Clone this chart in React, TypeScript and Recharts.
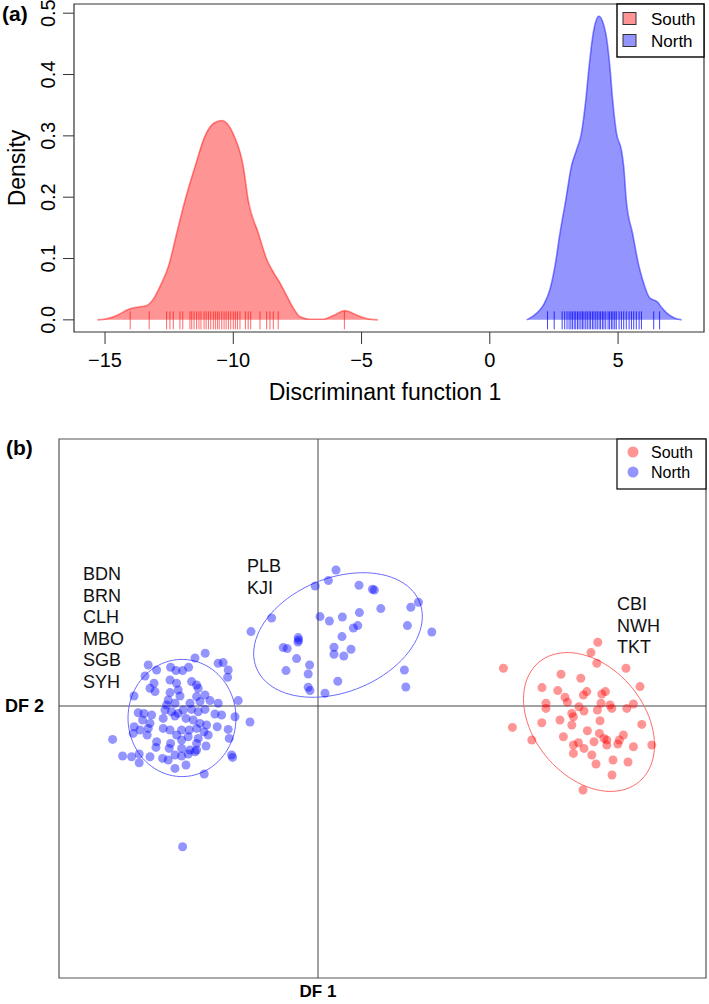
import React from 'react';
import {
  ComposedChart,
  ScatterChart,
  Area,
  Scatter,
  XAxis,
  YAxis,
  ReferenceArea,
  ReferenceLine,
} from 'recharts';

const FONT = '"Liberation Sans", Arial, Helvetica, sans-serif';
const NARROW = '"Liberation Sans Narrow", "Liberation Sans", Arial, sans-serif';

// ---------- Panel (a): density of discriminant function 1 ----------
const southDensityX = [-15.3, -14.9, -14.5, -14.1, -13.7, -13.4, -13.1, -12.85, -12.53, -12.2, -11.88, -11.49, -11.1, -10.75, -10.44, -10.15, -9.97, -9.61, -9.42, -9.03, -8.69, -8.4, -8.18, -7.9, -7.67, -7.4, -7.0, -6.5, -6.1, -5.65, -5.2, -4.8, -4.36];
const southDensityY = [0, 0.002, 0.008, 0.017, 0.021, 0.023, 0.035, 0.055, 0.087, 0.142, 0.195, 0.25, 0.3, 0.321, 0.325, 0.315, 0.3, 0.25, 0.195, 0.142, 0.098, 0.075, 0.06, 0.038, 0.02, 0.005, 0.001, 0.001, 0.007, 0.015, 0.008, 0.002, 0];
const northDensityX = [1.44, 1.83, 2.1, 2.34, 2.55, 2.73, 2.96, 3.18, 3.38, 3.57, 3.74, 3.87, 4.03, 4.25, 4.52, 4.68, 4.79, 4.94, 5.13, 5.22, 5.32, 5.57, 5.8, 5.96, 6.23, 6.54, 6.7, 6.9, 7.2, 7.48];
const northDensityY = [0, 0.011, 0.025, 0.049, 0.09, 0.14, 0.195, 0.25, 0.277, 0.304, 0.358, 0.413, 0.467, 0.495, 0.467, 0.413, 0.358, 0.304, 0.277, 0.25, 0.195, 0.14, 0.09, 0.065, 0.036, 0.029, 0.02, 0.011, 0.003, 0];

const southRug = [-14.02, -13.28, -12.6, -12.47, -12.34, -12.08, -11.97, -11.69, -11.62, -11.53, -11.43, -11.34, -11.26, -11.14, -11.06, -10.97, -10.88, -10.78, -10.7, -10.62, -10.55, -10.45, -10.36, -10.28, -10.19, -10.1, -10.0, -9.92, -9.84, -9.74, -9.53, -9.42, -9.32, -8.96, -8.7, -8.57, -8.44, -8.25, -5.67];
const northRug = [2.25, 2.51, 2.82, 2.92, 3.01, 3.09, 3.16, 3.22, 3.29, 3.35, 3.42, 3.48, 3.55, 3.61, 3.67, 3.74, 3.8, 3.87, 3.93, 4.0, 4.06, 4.13, 4.19, 4.26, 4.32, 4.39, 4.45, 4.52, 4.61, 4.67, 4.74, 4.8, 4.87, 4.93, 5.04, 5.13, 5.22, 5.32, 5.43, 5.52, 5.61, 5.71, 5.82, 5.91, 6.39, 6.62];

const xTicksA = [-15, -10, -5, 0, 5];
const yTicksA = [0, 0.1, 0.2, 0.3, 0.4, 0.5];
const xDomainA: [number, number] = [-16.21, 8.35];
const yDomainA: [number, number] = [-0.0198, 0.515];

// ---------- Panel (b): DF1 vs DF2 scatter ----------
const northPointsA: [number, number][] = [
  [-5.64, 2.64], [-6.15, 2.4], [-8.49, 2.05], [-8.07, 1.8], [-7.37, 1.94], [-7.1, 1.77], [-6.77, 1.77], [-6.47, 1.94],
  [-4.99, 2.14], [-4.74, 2.17], [-4.49, 1.8], [-8.65, 1.5], [-8.2, 1.14], [-8.4, 0.89], [-8.15, 0.72], [-7.4, 1.3],
  [-7.07, 1.14], [-6.32, 1.22], [-6.07, 1.05], [-5.99, 0.89], [-4.52, 1.44], [-9.2, 0.5], [-7.4, 0.67], [-6.99, 0.8],
  [-6.9, 0.5], [-6.07, 0.47], [-5.65, 0.55], [-5.4, 0.27], [-4.99, 0.14], [-3.99, 0.27], [-7.49, 0.3], [-7.57, 0.05],
  [-7.15, 0.14], [-6.4, 0.14], [-5.9, 0.22], [-8.99, -0.34], [-8.7, -0.37], [-8.32, -0.45], [-7.65, -0.2], [-7.32, -0.29],
  [-6.99, -0.37], [-6.74, -0.2], [-6.32, -0.17], [-5.99, -0.29], [-5.65, -0.17], [-5.15, -0.4], [-4.82, -0.45], [-4.15, -0.54],
  [-8.77, -0.7], [-8.4, -0.87], [-7.74, -0.62], [-7.15, -0.5], [-6.6, -0.62], [-6.24, -0.7], [-5.9, -0.87], [-5.57, -0.95],
  [-9.19, -1.04], [-8.9, -1.2], [-8.49, -1.12], [-7.74, -1.12], [-7.4, -1.2], [-6.82, -1.2], [-6.44, -1.2], [-6.07, -1.12],
  [-5.7, -1.29], [-5.04, -1.04], [-4.49, -1.17], [-9.24, -1.37], [-8.54, -1.45], [-7.07, -1.45], [-6.49, -1.54], [-5.99, -1.62],
  [-5.49, -1.45], [-4.44, -1.62], [-10.27, -1.67], [-8.07, -1.79], [-7.37, -1.87], [-6.82, -1.7], [-6.07, -1.87], [-5.6, -2.0],
  [-8.1, -2.07], [-7.44, -2.12], [-6.82, -2.12], [-6.4, -2.2], [-6.07, -2.2], [-9.77, -2.5], [-9.32, -2.54], [-8.94, -2.4],
  [-8.4, -2.54], [-7.77, -2.62], [-7.49, -2.7], [-7.15, -2.45], [-6.82, -2.5], [-6.49, -2.4], [-6.15, -2.29], [-4.32, -2.45],
  [-4.27, -2.57], [-8.94, -2.84], [-7.15, -3.12], [-6.6, -2.95], [-5.69, -3.4], [-6.77, -7.04], [-3.4, -0.8],
];
const northPointsB: [number, number][] = [
  [0.9, 6.8], [0.52, 6.27], [-0.14, 6.0], [2.05, 6.04], [2.72, 5.84], [2.82, 5.8], [5.02, 5.19], [4.64, 4.94],
  [3.14, 4.87], [2.07, 4.67], [-2.32, 4.4], [0.1, 4.47], [0.57, 4.25], [1.22, 4.45], [1.99, 4.02], [1.77, 3.9],
  [4.47, 4.02], [5.69, 3.7], [-3.35, 3.72], [1.2, 3.47], [-0.99, 3.42], [-0.97, 3.3], [-1.0, 3.2], [-1.74, 2.92],
  [-1.54, 2.87], [0.8, 2.94], [1.65, 2.84], [0.8, 2.59], [1.29, 2.5], [-1.07, 2.37], [-0.42, 2.05], [-1.6, 1.77],
  [-0.49, 1.6], [4.32, 1.8], [0.99, 1.24], [-0.49, 0.94], [-0.4, 0.77], [0.35, 0.64], [4.39, 0.95],
];
const southPoints: [number, number][] = [
  [13.99, 3.19], [13.65, 2.67], [13.94, 2.14], [9.27, 1.89], [15.4, 1.89], [12.15, 1.59], [13.14, 1.39], [16.1, 0.97],
  [11.2, 0.92], [11.99, 0.77], [13.44, 0.72], [14.37, 0.72], [14.19, 0.6], [12.35, 0.44], [13.27, 0.55], [12.47, 0.19],
  [11.4, 0.14], [14.15, 0.14], [14.6, 0.05], [15.77, 0.1], [13.05, -0.04], [11.4, -0.12], [14.69, -0.12], [15.44, -0.12],
  [13.3, -0.25], [13.97, -0.2], [12.69, -0.37], [12.77, -0.54], [11.19, -0.84], [12.1, -0.7], [14.1, -0.74], [16.19, -0.92],
  [9.72, -1.07], [12.69, -0.95], [13.47, -1.24], [12.27, -1.54], [14.07, -1.37], [14.3, -1.62], [15.27, -1.45], [10.69, -1.7],
  [14.44, -1.7], [15.07, -1.7], [13.8, -1.79], [13.02, -1.84], [12.77, -1.95], [13.3, -2.12], [14.44, -1.95], [14.99, -1.9],
  [15.77, -2.04], [16.69, -1.95], [12.77, -2.37], [13.69, -2.45], [14.75, -2.7], [13.9, -2.9], [15.5, -2.8], [14.7, -3.45],
  [13.25, -4.2],
];

// ellipse parameters: [centre x, centre y, semi-axis a, semi-axis b, angle in degrees]
const ellipseNorthA = [-6.8, -0.6, 2.7, 2.93, 0];
const ellipseNorthB = [1.0, 3.55, 4.4, 2.85, 22];
const ellipseSouth = [13.55, -0.8, 3.9, 2.75, -50];

const xDomainB: [number, number] = [-12.95, 19.4];
const yDomainB: [number, number] = [-13.6, 13.35];

const groupLabelsLeft = ['BDN', 'BRN', 'CLH', 'MBO', 'SGB', 'SYH'];
const groupLabelsMid = ['PLB', 'KJI'];
const groupLabelsRight = ['CBI', 'NWH', 'TKT'];

// ---------- helpers ----------
const densityTable = [
  ...southDensityX.map((x, i) => ({ x, south: southDensityY[i] })),
  ...northDensityX.map((x, i) => ({ x, north: northDensityY[i] })),
];
const toXY = (arr: [number, number][]) => arr.map(([x, y]) => ({ x, y }));

function ellipseOutline(p: number[]) {
  const [cx, cy, a, b, deg] = p;
  const t = (deg * Math.PI) / 180;
  const pts: { x: number; y: number }[] = [];
  for (let i = 0; i <= 90; i++) {
    const s = (i / 90) * 2 * Math.PI;
    pts.push({
      x: cx + a * Math.cos(s) * Math.cos(t) - b * Math.sin(s) * Math.sin(t),
      y: cy + a * Math.cos(s) * Math.sin(t) + b * Math.sin(s) * Math.cos(t),
    });
  }
  return pts;
}

const minus = (v: number) => String(v).replace('-', '\u2212');

const YTickRot = (props: any) => {
  const { x, y, payload } = props;
  return (
    <text
      x={x}
      y={y}
      transform={`rotate(-90 ${x} ${y})`}
      textAnchor="middle"
      fontSize={20}
      fontFamily={FONT}
      fill="#000"
    >
      {Number(payload.value).toFixed(1)}
    </text>
  );
};

const rugShape = (color: string, opacity: number) => (props: any) => {
  const { cx, cy } = props;
  return (
    <line x1={cx} x2={cx} y1={cy - 8.5} y2={cy + 9.5} stroke={color} strokeOpacity={opacity} strokeWidth={1} />
  );
};

const dotShape = (color: string) => (props: any) => {
  const { cx, cy } = props;
  return <circle cx={cx} cy={cy} r={4.5} fill={color} fillOpacity={0.42} />;
};

const noShape = () => <g />;

export default function App() {
  const labelStyle = { fontFamily: FONT, fontSize: 18, fill: '#111' } as const;
  return (
    <div style={{ position: 'absolute', left: 0, top: 0, width: 709, height: 1004, background: '#fff' }}>
      {/* Panel (a) */}
      <div style={{ position: 'absolute', left: 0, top: 0 }}>
        <ComposedChart
          width={709}
          height={410}
          data={densityTable}
          margin={{ top: 4, right: 5, bottom: 28, left: 14 }}
        >
          <XAxis
            dataKey="x"
            type="number"
            domain={xDomainA}
            ticks={xTicksA}
            allowDataOverflow
            axisLine={false}
            tickSize={12}
            tickMargin={9}
            height={50}
            tickLine={{ stroke: '#333' }}
            tick={{ fontSize: 20, fill: '#000', fontFamily: FONT }}
            tickFormatter={minus}
            interval={0}
          />
          <YAxis
            type="number"
            domain={yDomainA}
            ticks={yTicksA}
            allowDataOverflow
            axisLine={false}
            tickSize={11}
            tickMargin={8}
            width={60}
            tickLine={{ stroke: '#333' }}
            tick={<YTickRot />}
            interval={0}
          />
          <Area
            type="monotone"
            dataKey="south"
            connectNulls
            stroke="#ff0000"
            strokeOpacity={0.45}
            strokeWidth={1.6}
            fill="#ff0000"
            fillOpacity={0.42}
            isAnimationActive={false}
            dot={false}
            activeDot={false}
          />
          <Area
            type="monotone"
            dataKey="north"
            connectNulls
            stroke="#0000ff"
            strokeOpacity={0.45}
            strokeWidth={1.6}
            fill="#0000ff"
            fillOpacity={0.42}
            isAnimationActive={false}
            dot={false}
            activeDot={false}
          />
          <Scatter
            data={southRug.map((x) => ({ x, y: 0 }))}
            dataKey="y"
            shape={rugShape('#ff0000', 0.6)}
            isAnimationActive={false}
          />
          <Scatter
            data={northRug.map((x) => ({ x, y: 0 }))}
            dataKey="y"
            shape={rugShape('#0000ff', 0.75)}
            isAnimationActive={false}
          />
          <ReferenceArea
            x1={xDomainA[0]}
            x2={xDomainA[1]}
            y1={yDomainA[0]}
            y2={yDomainA[1]}
            fill="none"
            fillOpacity={0}
            stroke="#333"
            strokeWidth={1.2}
            ifOverflow="visible"
          />
        </ComposedChart>
      </div>

      {/* Panel (b) */}
      <div style={{ position: 'absolute', left: 0, top: 420 }}>
        <ScatterChart width={709} height={584} margin={{ top: 19, right: 3, bottom: 26, left: 59 }}>
          <XAxis dataKey="x" type="number" domain={xDomainB} allowDataOverflow hide height={0} />
          <YAxis dataKey="y" type="number" domain={yDomainB} allowDataOverflow hide width={0} />
          <ReferenceArea
            x1={xDomainB[0]}
            x2={xDomainB[1]}
            y1={yDomainB[0]}
            y2={yDomainB[1]}
            fill="none"
            fillOpacity={0}
            stroke="#555"
            strokeWidth={1.2}
            ifOverflow="visible"
          />
          <ReferenceLine x={0} stroke="#444" strokeWidth={1} />
          <ReferenceLine y={0} stroke="#444" strokeWidth={1} />
          <Scatter data={ellipseOutline(ellipseNorthA)} line={{ stroke: '#6b6bff', strokeWidth: 1 }} shape={noShape} isAnimationActive={false} />
          <Scatter data={ellipseOutline(ellipseNorthB)} line={{ stroke: '#6b6bff', strokeWidth: 1 }} shape={noShape} isAnimationActive={false} />
          <Scatter data={ellipseOutline(ellipseSouth)} line={{ stroke: '#ff6b6b', strokeWidth: 1 }} shape={noShape} isAnimationActive={false} />
          <Scatter data={toXY(northPointsA)} shape={dotShape('#0000ff')} isAnimationActive={false} />
          <Scatter data={toXY(northPointsB)} shape={dotShape('#0000ff')} isAnimationActive={false} />
          <Scatter data={toXY(southPoints)} shape={dotShape('#ff0000')} isAnimationActive={false} />
        </ScatterChart>
      </div>

      {/* Text and legends */}
      <svg
        width={709}
        height={1004}
        style={{ position: 'absolute', left: 0, top: 0, pointerEvents: 'none' }}
      >
        <text x={2} y={21} fontFamily={FONT} fontWeight="bold" fontSize={21} fill="#000">(a)</text>
        <text
          x={25}
          y={168}
          transform="rotate(-90 25 168)"
          textAnchor="middle"
          fontFamily={FONT}
          fontSize={23}
          fill="#000"
        >
          Density
        </text>
        <text x={385} y={400} textAnchor="middle" fontFamily={FONT} fontSize={23} fill="#000">
          Discriminant function 1
        </text>

        {/* legend (a) */}
        <rect x={617} y={4} width={87} height={53} fill="#fff" stroke="#000" strokeWidth={1.4} />
        <rect x={623} y={12.5} width={13} height={12} fill="#ff0000" fillOpacity={0.42} stroke="#333" strokeWidth={1} />
        <rect x={623} y={34.5} width={13} height={12} fill="#0000ff" fillOpacity={0.42} stroke="#333" strokeWidth={1} />
        <text x={651} y={25} fontFamily={FONT} fontSize={17} fill="#000">South</text>
        <text x={651} y={47} fontFamily={FONT} fontSize={17} fill="#000">North</text>

        <text x={6} y={455} fontFamily={FONT} fontWeight="bold" fontSize={21} fill="#000">(b)</text>

        {/* legend (b) */}
        <rect x={617} y={439} width={89} height={50} fill="#fff" stroke="#000" strokeWidth={1.2} />
        <circle cx={633} cy={452} r={5.5} fill="#ff0000" fillOpacity={0.42} />
        <circle cx={633} cy={472} r={5.5} fill="#0000ff" fillOpacity={0.42} />
        <text x={651} y={458} fontFamily={FONT} fontSize={16} fill="#000">South</text>
        <text x={651} y={478} fontFamily={FONT} fontSize={16} fill="#000">North</text>

        {groupLabelsLeft.map((t, i) => (
          <text key={t} x={83} y={580 + i * 21.6} {...labelStyle}>{t}</text>
        ))}
        {groupLabelsMid.map((t, i) => (
          <text key={t} x={247} y={572 + i * 21.6} {...labelStyle}>{t}</text>
        ))}
        {groupLabelsRight.map((t, i) => (
          <text key={t} x={617} y={610 + i * 21.6} {...labelStyle}>{t}</text>
        ))}

        <text x={5} y={712} fontFamily={NARROW} fontWeight="bold" fontSize={18} fill="#000">DF 2</text>
        <text x={318} y={997} textAnchor="middle" fontFamily={NARROW} fontWeight="bold" fontSize={17} fill="#000">DF 1</text>
      </svg>
    </div>
  );
}
